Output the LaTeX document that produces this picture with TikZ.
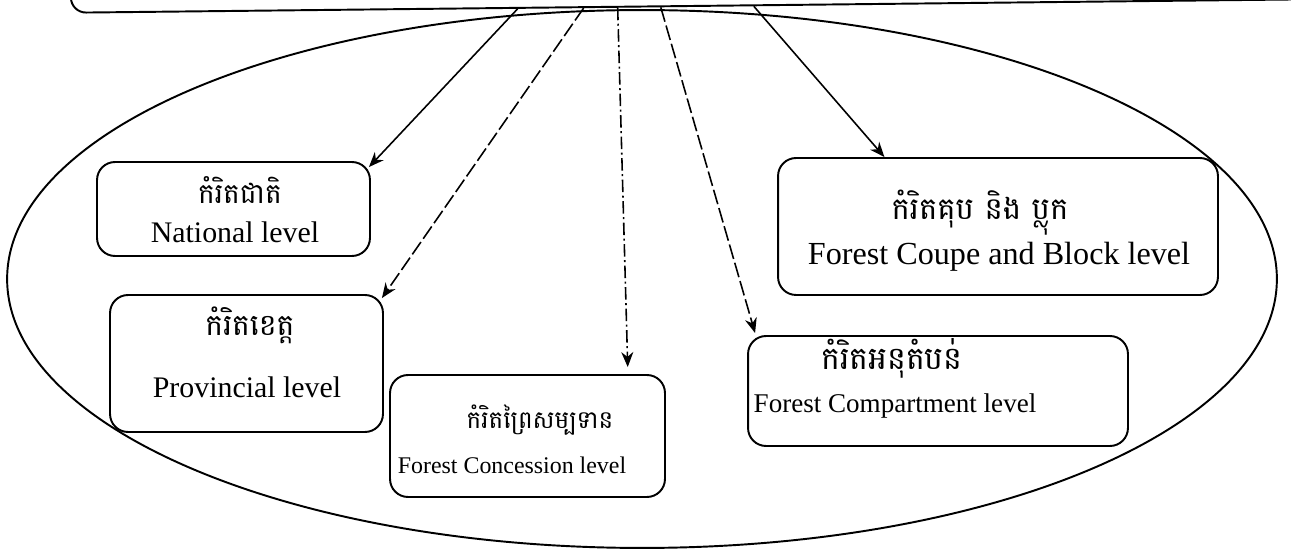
\documentclass[tikz,border=0pt]{standalone}
\usepackage{fontspec}
\setmainfont{Liberation Serif}
\newfontfamily\khmer[Script=Khmer]{Battambang}
\usetikzlibrary{arrows.meta,calc,shapes.geometric}
\begin{document}
\begin{tikzpicture}[x=0.02cm,y=-0.02cm,
  box/.style={draw, rounded corners=0.36cm, line width=1.1pt, inner sep=0pt},
  zonestyle/.style={draw, ellipse, line width=1.1pt, inner sep=0pt},
  kh/.style={font=\khmer\fontsize{#1}{#1}\selectfont, inner sep=0pt},
  en/.style={font=\fontsize{#1}{#1}\selectfont, inner sep=0pt},
  link/.style={line width=0.9pt, -{Stealth[length=0.3cm,width=0.24cm]}},
  longdash/.style={dash pattern=on 0.3cm off 0.08cm},
  dashdot/.style={dash pattern=on 0.25cm off 0.07cm on 0.04cm off 0.07cm}]
\useasboundingbox (0,0) rectangle (1291,553);
\clip (0,0) rectangle (1291,553);

% top box (mostly outside the picture)
\node[box, rounded corners=0.3cm, minimum width=28.6cm, minimum height=3.2cm, rotate=0.62] (top) at (785,-75) {};

% zone ellipse
\node[zonestyle, minimum width=25.4cm, minimum height=10.76cm] (zone) at (642,279) {};

% level boxes
\node[box, minimum width=5.46cm, minimum height=1.88cm] (nat) at (233.5,209) {};
\node[box, minimum width=5.46cm, minimum height=2.74cm] (prov) at (246.5,363.5) {};
\node[box, minimum width=5.5cm, minimum height=2.44cm] (con) at (527.5,436) {};
\node[box, minimum width=7.6cm, minimum height=2.2cm] (comp) at (938,391) {};
\node[box, minimum width=8.8cm, minimum height=2.74cm] (coupe) at (998,226.5) {};

% texts
\node[kh=16] (natK) at (240,190) {កំរិតជាតិ};
\node[en=17] (natE) at (235,232) {National level};
\node[kh=17] (provK) at (250,325) {កំរិតខេត្ត};
\node[en=17] (provE) at (247,387) {Provincial level};
\node[kh=14] (conK) at (540,420) {កំរិតព្រៃសម្បទាន};
\node[en=13.6] (conE) at (512,465) {Forest Concession level};
\node[kh=18] (compK) at (892,358) {កំរិតអនុតំបន់};
\node[en=15.4] (compE) at (895,406) {Forest Compartment level};
\node[kh=17.5] (coupeK) at (980,213) {កំរិតគុប និង ប្លុក};
\node[en=18.3] (coupeE) at (999,257) {Forest Coupe and Block level};

% start points on the bottom edge of the top box
\coordinate (s1) at ($(top.south west)!0.3126!(top.south east)$);
\coordinate (s2) at ($(top.south west)!0.3587!(top.south east)$);
\coordinate (s3) at ($(top.south west)!0.3825!(top.south east)$);
\coordinate (s4) at ($(top.south west)!0.4126!(top.south east)$);
\coordinate (s5) at ($(top.south west)!0.4776!(top.south east)$);

\draw[link] (s1) -- ($(nat.north east)+(-2,6)$);
\draw[link, longdash] (s2) -- ($(prov.north east)+(-2,4)$);
\draw[link, dashdot] (s3) -- ($($(con.north west)!0.862!(con.north east)$)+(0,-7)$);
\draw[link, longdash] (s4) -- ($(comp.north west)+(8,-2)$);
\draw[link] (s5) -- ($(coupe.north west)!0.243!(coupe.north east)$);
\end{tikzpicture}
\end{document}
